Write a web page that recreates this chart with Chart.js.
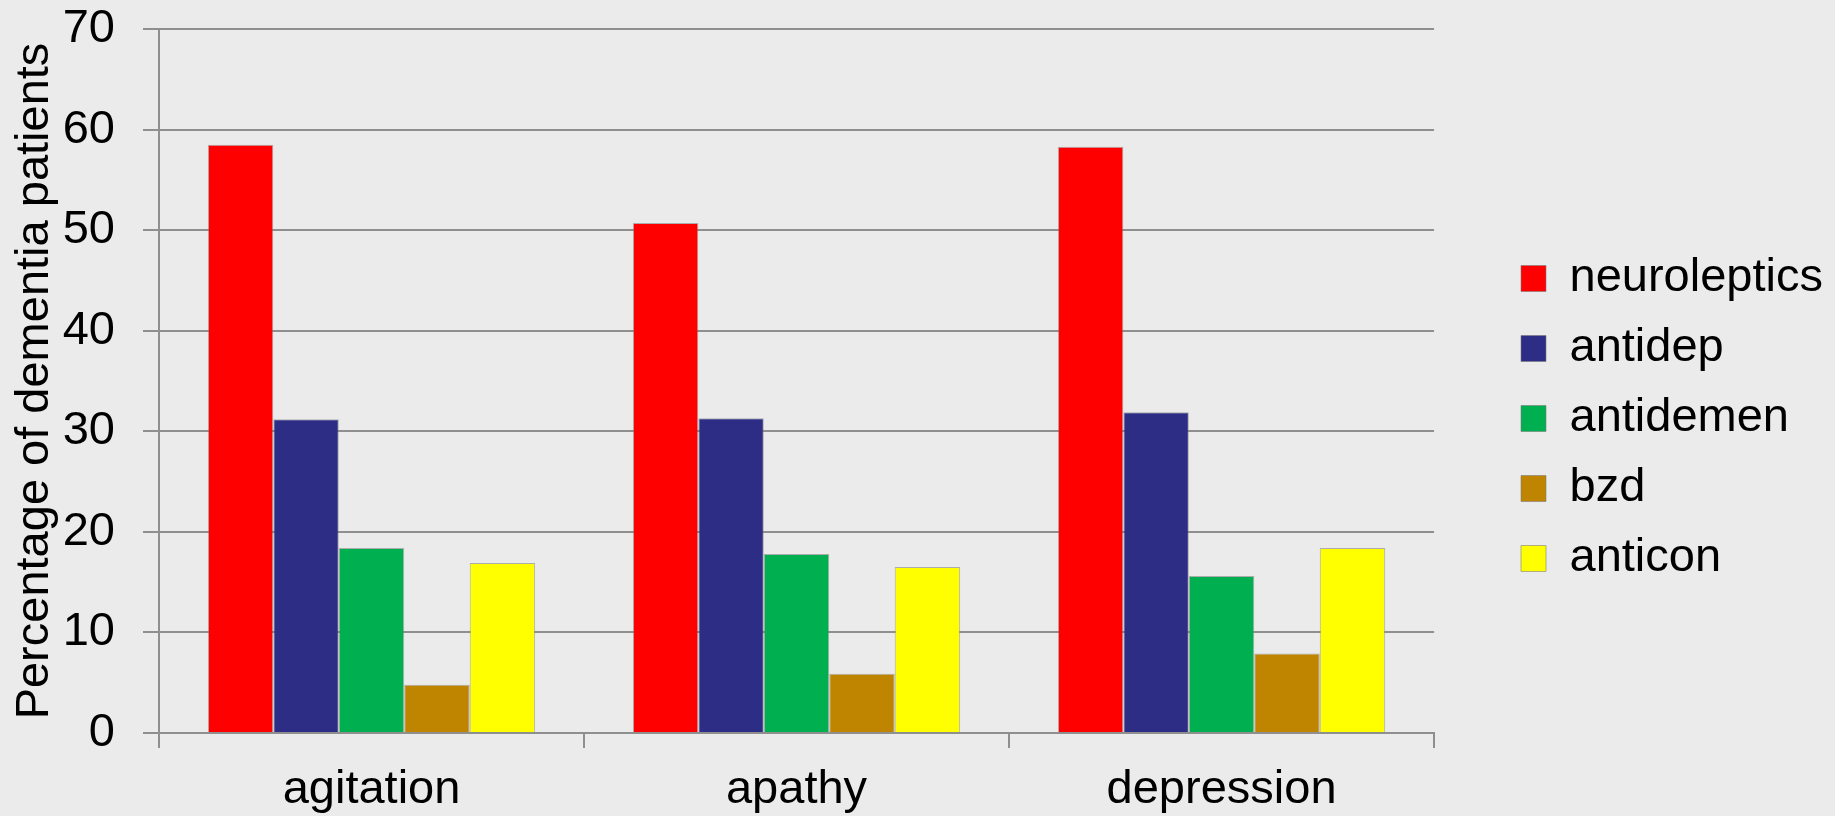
<!DOCTYPE html>
<html>
<head>
<meta charset="utf-8">
<script src="https://cdn.jsdelivr.net/npm/chart.js@4/dist/chart.umd.min.js"></script>
<style>
  html, body { margin: 0; padding: 0; background: #ebebeb; }
  canvas { display: block; background: #ebebeb; }
</style>
</head>
<body>
<canvas id="c" width="1835" height="816"></canvas>
<script>
const categories = ['agitation', 'apathy', 'depression'];
const seriesNames = ['neuroleptics', 'antidep', 'antidemen', 'bzd', 'anticon'];
const neuroleptics = [58.5, 50.7, 58.3];
const antidep = [31.2, 31.3, 31.9];
const antidemen = [18.4, 17.8, 15.6];
const bzd = [4.8, 5.9, 7.9];
const anticon = [16.9, 16.5, 18.4];
const seriesColors = ['#FF0000', '#2D2D86', '#00B050', '#BF8500', '#FFFF00'];
const yTitle = 'Percentage of dementia patients';
const yMin = 0, yMax = 70, yStep = 10;

const FONT = '"Liberation Sans", Arial, Helvetica, sans-serif';
const FS = 47;
const seriesValues = [neuroleptics, antidep, antidemen, bzd, anticon];

const legendShift = {
  id: 'legendShift',
  afterLayout(chart) {
    const lg = chart.legend;
    if (!lg) return;
    const dx = 1498 - lg.left;
    lg.left += dx;
    lg.right += dx;
  }
};

new Chart(document.getElementById('c'), {
  type: 'bar',
  data: {
    labels: categories,
    datasets: seriesNames.map((name, i) => ({
      label: name,
      data: seriesValues[i],
      backgroundColor: seriesColors[i],
      borderColor: 'rgba(120,120,120,0.55)',
      borderWidth: 1,
      categoryPercentage: 0.77,
      barPercentage: 1.0
    }))
  },
  options: {
    responsive: false,
    devicePixelRatio: 1,
    animation: false,
    layout: { padding: { left: 0, right: 66, top: 23, bottom: 2 } },
    plugins: {
      tooltip: { enabled: false },
      legend: {
        position: 'right',
        align: 'center',
        labels: {
          boxWidth: 25,
          boxHeight: 26,
          padding: 23,
          color: '#000',
          font: { family: FONT, size: FS }
        }
      }
    },
    scales: {
      x: {
        afterFit(s) { s.height = 81; },
        grid: {
          offset: true,
          drawOnChartArea: false,
          drawTicks: true,
          tickLength: 15,
          color: '#8f8f8f',
          lineWidth: 2
        },
        border: { display: true, color: '#8f8f8f', width: 2 },
        ticks: {
          color: '#000',
          padding: 19,
          font: { family: FONT, size: FS, lineHeight: 1.0 }
        }
      },
      y: {
        min: yMin,
        max: yMax,
        afterFit(s) { s.width = 159; s.paddingTop = 29; s.paddingBottom = 0; },
        ticks: {
          stepSize: yStep,
          color: '#000',
          padding: 28,
          font: { family: FONT, size: FS }
        },
        grid: {
          color: '#8f8f8f',
          lineWidth: 2,
          tickLength: 16,
          drawTicks: true
        },
        border: { display: true, color: '#8f8f8f', width: 2 },
        title: {
          display: true,
          text: yTitle,
          color: '#000',
          padding: { top: 6.5, bottom: 0.9 },
          font: { family: FONT, size: 47 }
        }
      }
    }
  },
  plugins: [legendShift]
});
</script>
</body>
</html>
